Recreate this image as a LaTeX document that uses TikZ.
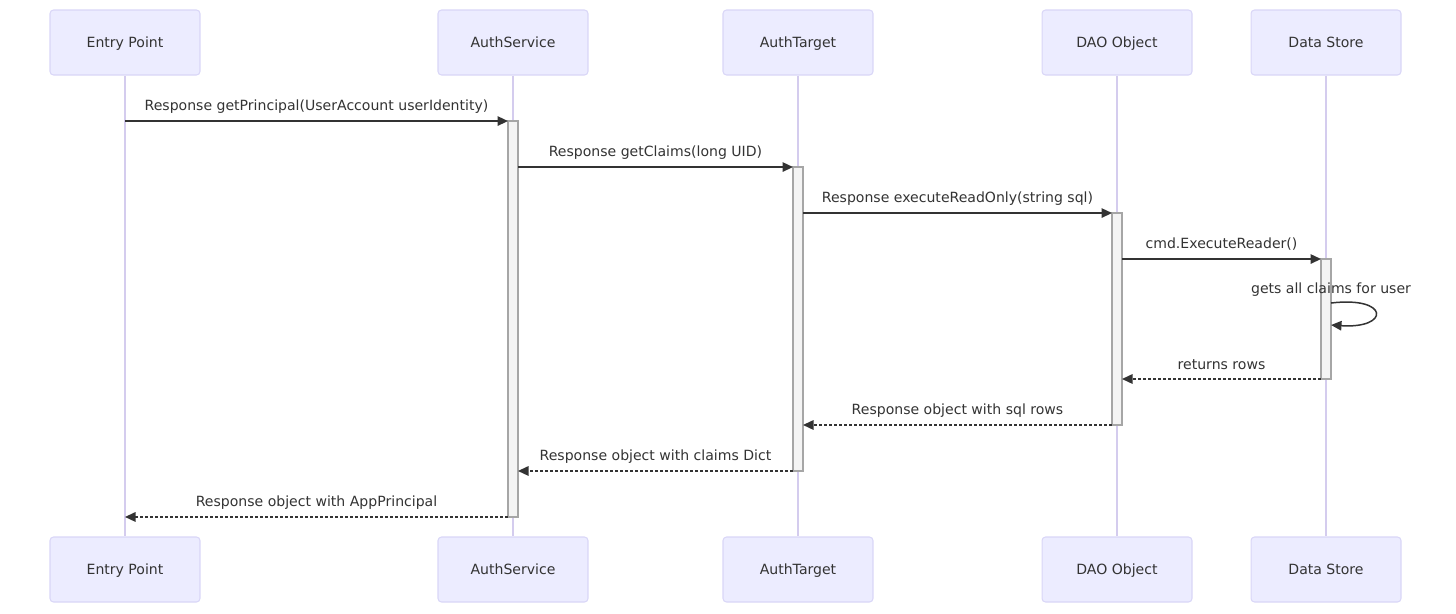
\documentclass[tikz,border=0pt]{standalone}
\usepackage{fontspec}
\setmainfont{DejaVu Sans}
\usetikzlibrary{arrows.meta}
\definecolor{actorfill}{HTML}{ECECFF}
\definecolor{actorline}{HTML}{D9D6F7}
\definecolor{lifeline}{HTML}{D4CCEE}
\definecolor{actfill}{HTML}{F4F4F4}
\definecolor{actline}{HTML}{A6A6A6}
\definecolor{msgline}{HTML}{333333}

\begin{document}
\begin{tikzpicture}[x=0.02cm,y=-0.02cm,
      actor/.style={rectangle,draw=actorline,fill=actorfill,rounded corners=2pt,
                    minimum width=3cm,minimum height=1.3cm,line width=0.6pt,
                    font=\fontsize{8}{9.6}\selectfont,text=msgline,
                    text height=0.75em,text depth=0.22em},
      life/.style={draw=lifeline,line width=0.85pt},
      act/.style={rectangle,draw=actline,fill=actfill,line width=0.7pt,
                  minimum width=0.2cm,inner sep=0pt,outer sep=0pt},
      msg/.style={draw=msgline,line width=0.85pt,
                  -{Triangle[length=0.21cm,width=0.19cm]}},
      ret/.style={msg,dash pattern=on 0.06cm off 0.04cm},
      lbl/.style={font=\fontsize{8}{9.6}\selectfont,text=msgline,inner sep=0pt,
                  text height=0.75em,text depth=0.22em,yshift=0.31cm}]
    \useasboundingbox (0,0) rectangle (1456,613);
    %% ── Actors, top row ──────────────────────────────────────
    \node[actor] (ep)  at (125, 42.5)  {Entry Point};
    \node[actor] (as)  at (513, 42.5)  {AuthService};
    \node[actor] (at)  at (798, 42.5)  {AuthTarget};
    \node[actor] (dao) at (1117,42.5)  {DAO Object};
    \node[actor] (ds)  at (1326,42.5)  {Data Store};
    %% ── Actors, bottom row ───────────────────────────────────
    \node[actor] (ep2)  at (125, 569.5) {Entry Point};
    \node[actor] (as2)  at (513, 569.5) {AuthService};
    \node[actor] (at2)  at (798, 569.5) {AuthTarget};
    \node[actor] (dao2) at (1117,569.5) {DAO Object};
    \node[actor] (ds2)  at (1326,569.5) {Data Store};
    %% ── Lifelines ────────────────────────────────────────────
    \draw[life] (ep)--(ep2);
    \draw[life] (as)--(as2);
    \draw[life] (at)--(at2);
    \draw[life] (dao)--(dao2);
    \draw[life] (ds)--(ds2);
    %% ── Activations ──────────────────────────────────────────
    \node[act,minimum height=7.92cm] (act1) at (513, 319) {};
    \node[act,minimum height=6.08cm] (act2) at (798, 319) {};
    \node[act,minimum height=4.24cm] (act3) at (1117,319) {};
    \node[act,minimum height=2.4cm]  (act4) at (1326,319) {};
    %% ── Calls ────────────────────────────────────────────────
    \draw[msg] (ep |- act1.north west)--node[lbl]{Response getPrincipal(UserAccount userIdentity)}(act1.north west);
    \draw[msg] (act1.east |- act2.north west)--node[lbl]{Response getClaims(long UID)}(act2.north west);
    \draw[msg] (act2.east |- act3.north west)--node[lbl]{Response executeReadOnly(string sql)}(act3.north west);
    \draw[msg] (act3.east |- act4.north west)--node[lbl]{cmd.ExecuteReader()}(act4.north west);
    %% ── Self call ────────────────────────────────────────────
    \draw[msg] ([yshift=-0.88cm]act4.north east) node[lbl,yshift=-0.03cm]{gets all claims for user}
      .. controls ([xshift=1.18cm,yshift=-0.74cm]act4.north east)
      and ([xshift=1.18cm,yshift=-1.4cm]act4.north east) .. ([yshift=-1.32cm]act4.north east);
    %% ── Returns ──────────────────────────────────────────────
    \draw[ret] (act4.south west)--node[lbl,yshift=-0.03cm]{returns rows}(act3.east |- act4.south west);
    \draw[ret] (act3.south west)--node[lbl]{Response object with sql rows}(act2.east |- act3.south west);
    \draw[ret] (act2.south west)--node[lbl]{Response object with claims Dict}(act1.east |- act2.south west);
    \draw[ret] (act1.south west)--node[lbl]{Response object with AppPrincipal}(ep |- act1.south west);
  \end{tikzpicture}
\end{document}
